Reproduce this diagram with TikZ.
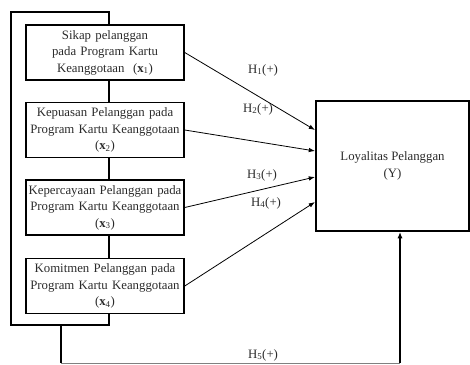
\documentclass[tikz,border=0pt]{standalone}
\usepackage{fontspec}
\setmainfont{Liberation Serif}
\usepackage{tikz}
\usetikzlibrary{arrows.meta,positioning}
\definecolor{LGrey}{HTML}{2A2A2A}

\begin{document}
\begin{tikzpicture}[
  x=1pt,y=-1pt,
  node distance=21pt and 30pt,
  every node/.style={font=\fontsize{12.8}{16.5}\selectfont,text=LGrey},
  v/.style={draw,line width=1.5pt,minimum width=158pt,minimum height=55pt,
    text width=154pt,align=center,inner sep=0pt},
  yb/.style={draw,line width=2pt,minimum width=153pt,minimum height=130pt,
    align=center,inner sep=0pt},
  a/.style={-{Latex[length=2.2mm,width=1.6mm]},line width=0.8pt},
  ln/.style={line width=2pt}
]
  \useasboundingbox (0,0) rectangle (470,364);
  \node[v] (sikap) at (105,52.5) {Sikap pelanggan\\pada Program Kartu\\Keanggotaan\ \ (\textbf{x}\textsubscript{1})};
  \node[v,below=of sikap] (puas) {Kepuasan Pelanggan pada\\Program Kartu Keanggotaan\\(\textbf{x}\textsubscript{2})};
  \node[v,below=of puas] (percaya) {Kepercayaan Pelanggan pada\\Program Kartu Keanggotaan\\(\textbf{x}\textsubscript{3})};
  \node[v,below=22pt of percaya] (komit) {Komitmen Pelanggan pada\\Program Kartu Keanggotaan\\(\textbf{x}\textsubscript{4})};
  \node[yb] (loyal) at (392.5,166) {Loyalitas Pelanggan\\(Y)};
  % entry points on the left side of Y
  \coordinate (in1) at ([yshift=36pt]loyal.west);
  \coordinate (in2) at ([yshift=15pt]loyal.west);
  \coordinate (in3) at ([yshift=-11pt]loyal.west);
  \coordinate (in4) at ([yshift=-36pt]loyal.west);
  \foreach \x/\y in {sikap/in1,puas/in2,percaya/in3,komit/in4}
    {\draw[a] (\x.east) -- (\y);}
  % the bracket joining the four boxes
  \coordinate (spine) at (109,0);
  \coordinate (ycol) at (400,0);
  \coordinate (bl) at (11,325);
  \coordinate (tl) at (11,12);
  \coordinate (drop) at (61,325);
  \coordinate (foot) at (61,363);
  \draw[ln] (sikap.south -| spine) -- (puas.north -| spine);
  \draw[ln] (puas.south -| spine) -- (percaya.north -| spine);
  \draw[ln] (percaya.south -| spine) -- (komit.north -| spine);
  \draw[ln] (komit.south -| spine) |- (bl) -- (tl) -| (sikap.north -| spine);
  \draw[ln] (drop) -- (foot);
  \draw[line width=1pt,draw=gray] (foot) -- (foot -| ycol);
  \draw[ln,-{Latex[length=2.2mm,width=1.8mm]}] (foot -| ycol) -- (loyal.south -| ycol);
  \node (h1) at (263,70) {H\textsubscript{1}(+)};
  \node (h2) at (258,109) {H\textsubscript{2}(+)};
  \node (h3) at (262,175) {H\textsubscript{3}(+)};
  \node (h4) at (266,203) {H\textsubscript{4}(+)};
  \node (h5) at (263,355) {H\textsubscript{5}(+)};
\end{tikzpicture}
\end{document}
